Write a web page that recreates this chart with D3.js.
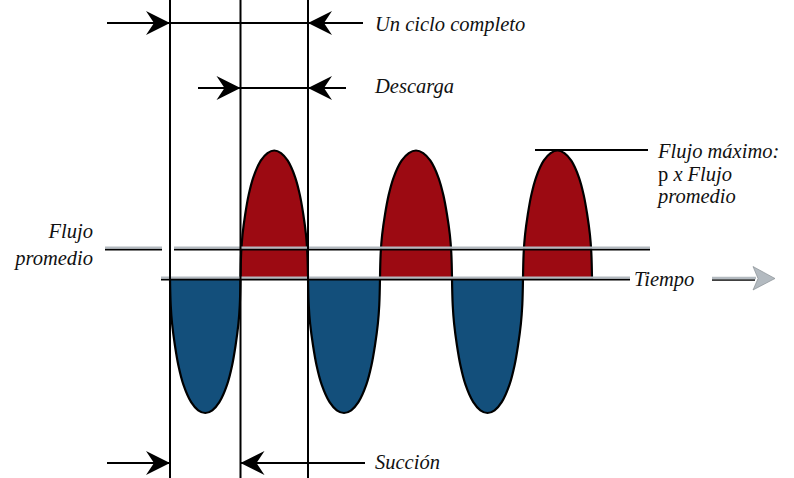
<!DOCTYPE html>
<html>
<head>
<meta charset="utf-8">
<script src="https://cdn.jsdelivr.net/npm/d3@7"></script>
<style>
  body { margin: 0; background: #fff; }
</style>
</head>
<body>
<div id="chart"></div>
<script>
// datos
const cruces = [0, 70.5, 138, 210, 282, 353, 422];        // tiempos donde el flujo cruza cero
const amplitudes = [-4.5, 4.25, -4.5, 4.25, -4.5, 4.25];  // pico de cada medio ciclo (flujo promedio = 1)
const perfilU = [0, 0.01, 0.03, 0.07, 0.12, 0.19, 0.3, 0.4, 0.5, 0.6, 0.7, 0.81, 0.88, 0.93, 0.97, 0.99, 1];
const perfilH = [0, 0.2, 0.34, 0.5, 0.65, 0.79, 0.92, 0.98, 1, 0.98, 0.92, 0.79, 0.65, 0.5, 0.34, 0.2, 0];
const flujoPromedio = 1;
const marcasCiclo = [0, 70.5, 138];   // líneas verticales: inicio, mitad, fin de ciclo
const etiquetas = ["Un ciclo completo", "Descarga", "Succión", "Tiempo"];

const W = 794, H = 478;
const fuente = "'Liberation Serif', 'Times New Roman', Times, serif";
const svg = d3.select("#chart").append("svg")
  .attr("width", W).attr("height", H);

const x = d3.scaleLinear().domain([0, 422]).range([170, 592]);
const y = d3.scaleLinear().domain([0, 1]).range([278, 248]);

const colorPos = "#9c0a12", colorNeg = "#134f7b", gris = "#b3bac0";

// lóbulos
const lobulo = d3.line().x(d => d[0]).y(d => d[1]).curve(d3.curveCatmullRom);
amplitudes.forEach((a, i) => {
  const t0 = cruces[i], t1 = cruces[i + 1];
  const pts = perfilU.map((u, k) => [x(t0 + u * (t1 - t0)), y(a * perfilH[k])]);
  svg.append("path")
    .attr("d", lobulo(pts) + "Z")
    .attr("fill", a > 0 ? colorPos : colorNeg)
    .attr("stroke", "#000")
    .attr("stroke-width", 2.2);
});

// línea de flujo promedio (gris con sombra negra)
function lineaDoble(x1, x2, yy) {
  svg.append("line").attr("x1", x1).attr("x2", x2).attr("y1", yy + 1.5).attr("y2", yy + 1.5)
    .attr("stroke", "#000").attr("stroke-width", 1.8);
  svg.append("line").attr("x1", x1).attr("x2", x2).attr("y1", yy - 0.3).attr("y2", yy - 0.3)
    .attr("stroke", gris).attr("stroke-width", 2.2);
}
lineaDoble(105, 162, y(flujoPromedio));
lineaDoble(174, 650, y(flujoPromedio));
lineaDoble(161, 630, y(0));

// líneas verticales
svg.selectAll(".vert").data(marcasCiclo).enter().append("line")
  .attr("x1", d => x(d)).attr("x2", d => x(d))
  .attr("y1", 0).attr("y2", H)
  .attr("stroke", "#000").attr("stroke-width", 2);

// flechas de cota
function punta(xt, yt, dir) {
  // dir = 1 apunta a la derecha, -1 a la izquierda
  const p = `M${xt},${yt} L${xt - dir * 24},${yt - 12} L${xt - dir * 16},${yt} L${xt - dir * 24},${yt + 12} Z`;
  svg.append("path").attr("d", p).attr("fill", "#000");
}
function segmento(x1, x2, yy) {
  svg.append("line").attr("x1", x1).attr("x2", x2).attr("y1", yy).attr("y2", yy)
    .attr("stroke", "#000").attr("stroke-width", 2);
}

// Un ciclo completo
segmento(107, x(marcasCiclo[0]), 23);
punta(x(marcasCiclo[0]), 23, 1);
segmento(x(marcasCiclo[0]), 363, 23);
punta(x(marcasCiclo[2]), 23, -1);

// Descarga
segmento(198, 346, 88);
punta(x(marcasCiclo[1]), 88, 1);
punta(x(marcasCiclo[2]), 88, -1);

// Succión
segmento(107, x(marcasCiclo[0]), 463);
punta(x(marcasCiclo[0]), 463, 1);
segmento(x(marcasCiclo[1]), 365, 463);
punta(x(marcasCiclo[1]), 463, -1);

// línea de flujo máximo
segmento(535, 648, y(amplitudes[5]) - 0.5);

// textos
function texto(xx, yy, t, ancla) {
  return svg.append("text")
    .attr("x", xx).attr("y", yy)
    .attr("font-family", fuente)
    .attr("font-style", "italic")
    .attr("font-size", 20.5)
    .attr("fill", "#111")
    .attr("text-anchor", ancla || "start")
    .text(t);
}
texto(375, 31, etiquetas[0]);
texto(375, 93, etiquetas[1]);
texto(375, 469, etiquetas[2]);
texto(634, 286, etiquetas[3]);

texto(658, 158, "Flujo máximo:");
const l2 = texto(658, 181, "");
l2.append("tspan").attr("font-style", "normal").text("p");
l2.append("tspan").text(" x Flujo");
texto(658, 203, "promedio");

texto(93, 238, "Flujo", "end");
texto(93, 265, "promedio", "end");

// flecha del tiempo
svg.append("line").attr("x1", 712).attr("x2", 755).attr("y1", 280).attr("y2", 280)
  .attr("stroke", "#000").attr("stroke-width", 1.6);
svg.append("line").attr("x1", 712).attr("x2", 756).attr("y1", 278).attr("y2", 278)
  .attr("stroke", gris).attr("stroke-width", 2.4);
svg.append("path")
  .attr("d", "M775,278.5 L753,266.5 L758,278.5 L753,290 Z")
  .attr("fill", gris).attr("stroke", "#7d858a").attr("stroke-width", 0.6);
</script>
</body>
</html>
